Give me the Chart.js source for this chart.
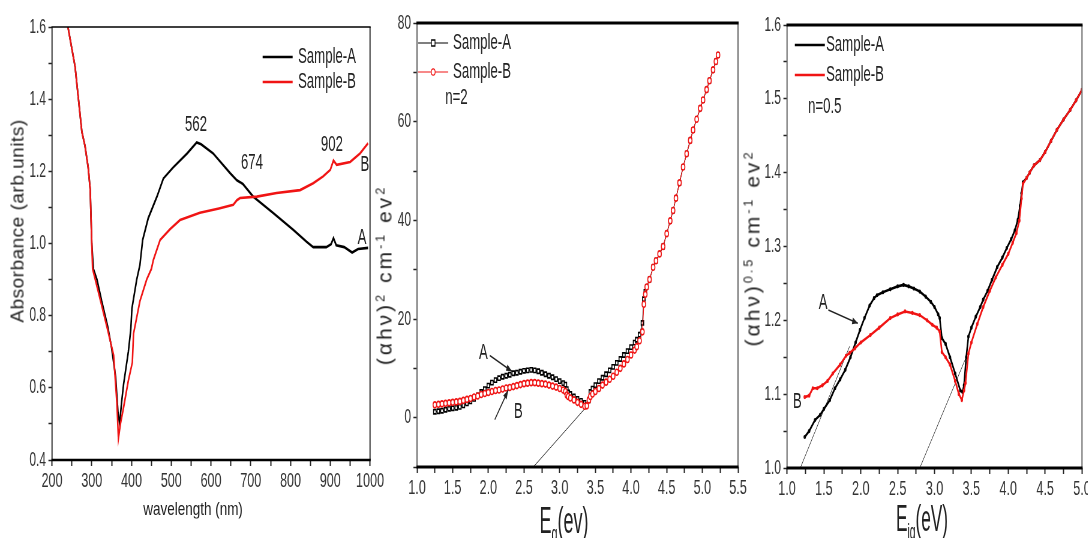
<!DOCTYPE html>
<html>
<head>
<meta charset="utf-8">
<script src="https://cdn.jsdelivr.net/npm/chart.js@4.4.0/dist/chart.umd.min.js"></script>
<style>
html, body { margin: 0; padding: 0; background: #fff; width: 1088px; height: 538px; overflow: hidden; }
#wrap { position: absolute; left: 0; top: 0; width: 1813px; height: 538px; transform: scaleX(0.6); transform-origin: 0 0; }
#wrap canvas { position: absolute; left: 0; top: 0; }
.t { position: absolute; white-space: nowrap; line-height: 1; color: #222; font-family: 'Liberation Sans', Arial, sans-serif; transform: translate(-50%, -50%); }
.rot { transform: translate(-50%, -50%) rotate(-90deg); }
.t sup { font-size: 0.6em; position: relative; top: -0.55em; vertical-align: baseline; }
.t sub { font-size: 0.6em; position: relative; top: 0.35em; vertical-align: baseline; }
</style>
</head>
<body>
<div id="wrap">
  <canvas id="abs" width="1813" height="538"></canvas>
  <canvas id="tauc2" width="1813" height="538"></canvas>
  <canvas id="tauc05" width="1813" height="538"></canvas>
</div>
<div class="t rot" style="left:17px; top:221px; font-size:19px; letter-spacing:0.5px;">Absorbance (arb.units)</div>
<div class="t" style="left:193px; top:508px; font-size:19px; transform:translate(-50%,-50%) scaleX(0.71);">wavelength (nm)</div>
<div class="t rot" style="left:384px; top:275px; font-size:21px; letter-spacing:3px;">(αhν)<sup>2</sup> cm<sup>-1</sup> ev<sup>2</sup></div>
<div class="t" style="left:564px; top:521px; font-size:36px; transform:translate(-50%,-50%) scaleX(0.5);">E<sub>g</sub>(ev)</div>
<div class="t rot" style="left:752px; top:248px; font-size:21px; letter-spacing:3px;">(αhν)<sup>0.5</sup> cm<sup>-1</sup> ev<sup>2</sup></div>
<div class="t" style="left:922px; top:519px; font-size:36px; transform:translate(-50%,-50%) scaleX(0.48);">E<sub>ig</sub>(eV)</div>

<script>
// ---- panel 1: absorbance vs wavelength
const wlA = [240,258,275,283,291,296,300,304,313,325,340,350,360,366,370,375,380,392,398,401,413,421,428,442,464,480,504,540,564,575,605,648,665,673,680,706,756,807,840,857,875,890,902,908,915,935,955,970,995];
const absA = [1.60,1.49,1.31,1.27,1.21,1.15,1.00,0.93,0.90,0.84,0.77,0.71,0.63,0.53,0.50,0.56,0.61,0.70,0.76,0.82,0.90,0.94,1.01,1.07,1.13,1.18,1.21,1.25,1.28,1.275,1.25,1.195,1.175,1.17,1.165,1.13,1.085,1.038,1.005,0.99,0.99,0.99,0.998,1.015,0.995,0.99,0.975,0.985,0.988];
const wlB = [240,258,275,283,291,296,300,302,320,340,355,363,367,372,379,392,402,405,421,438,450,455,472,497,522,572,620,656,665,673,715,765,824,857,882,900,908,916,950,975,995];
const absB = [1.60,1.49,1.31,1.27,1.21,1.15,1.00,0.93,0.85,0.76,0.69,0.56,0.46,0.50,0.54,0.62,0.67,0.75,0.84,0.90,0.93,0.955,1.01,1.04,1.065,1.085,1.097,1.107,1.12,1.126,1.13,1.14,1.148,1.167,1.186,1.204,1.23,1.218,1.226,1.25,1.278];

// ---- panel 2: (ahv)^2 vs Eg, n=2
const eg = [1.25,1.3,1.35,1.4,1.45,1.5,1.55,1.6,1.65,1.7,1.75,1.8,1.85,1.9,1.95,2.0,2.05,2.1,2.15,2.2,2.25,2.3,2.35,2.4,2.45,2.5,2.55,2.6,2.65,2.7,2.75,2.8,2.85,2.9,2.95,3.0,3.05,3.08,3.1,3.12,3.15,3.2,3.25,3.3,3.35,3.38,3.41,3.43,3.46,3.5,3.55,3.6,3.65,3.7,3.75,3.8,3.85,3.9,3.95,4.0,4.05,4.08,4.12,4.16,4.18,4.2,4.22,4.26,4.31,4.35,4.4,4.45,4.5,4.55,4.59,4.63,4.68,4.73,4.78,4.83,4.87,4.92,4.97,5.01,5.06,5.1,5.15,5.19,5.22];
const ahA = [1.2,1.3,1.4,1.6,1.8,1.9,2.0,2.2,2.5,2.9,3.3,3.8,4.5,5.2,5.8,6.5,7.1,7.6,8.0,8.3,8.5,8.7,9.0,9.1,9.3,9.5,9.6,9.7,9.6,9.4,9.1,8.8,8.5,8.2,7.8,7.4,7.0,6.7,5.8,5.1,4.8,4.3,3.8,3.4,3.0,2.6,3.5,5.2,5.9,6.6,7.4,8.1,8.8,9.6,10.3,11.1,11.9,12.7,13.5,14.3,15.2,15.8,16.8,19.2,24.0,25.5,26.5,28.0,30.5,31.8,33.2,34.7,37.3,39.9,42.0,44.5,47.6,50.8,53.5,56.2,58.3,60.5,62.7,64.4,66.5,68.3,70.5,72.2,73.5];
const ahB = [2.6,2.7,2.8,2.9,3.0,3.1,3.2,3.3,3.5,3.7,3.9,4.2,4.4,4.7,4.9,5.1,5.3,5.5,5.6,5.8,6.0,6.1,6.3,6.5,6.7,6.9,7.0,7.1,7.1,7.0,6.9,6.8,6.6,6.4,6.2,5.9,5.6,5.3,4.6,4.3,4.0,3.6,3.1,2.7,2.3,2.4,3.6,4.3,4.8,5.3,5.9,6.6,7.2,7.8,8.4,9.2,10.0,10.9,11.8,12.7,13.7,14.4,15.6,17.4,23.0,25.0,26.5,28.0,30.5,31.8,33.2,34.7,37.3,39.9,42.0,44.5,47.6,50.8,53.5,56.2,58.3,60.5,62.7,64.4,66.5,68.3,70.5,72.2,73.5];
const fitX2 = [2.63, 3.40];
const fitY2 = [-10, 2.6];

// ---- panel 3: (ahv)^0.5 vs Eig, n=0.5
const eiA = [1.24,1.3,1.38,1.45,1.5,1.58,1.65,1.72,1.79,1.86,1.93,1.99,2.05,2.12,2.18,2.22,2.3,2.4,2.5,2.58,2.65,2.72,2.8,2.88,2.95,3.0,3.05,3.07,3.1,3.15,3.21,3.28,3.35,3.38,3.4,3.43,3.46,3.5,3.56,3.62,3.66,3.72,3.78,3.85,3.92,3.98,4.04,4.09,4.13,4.16,4.18,4.2,4.25,4.29,4.35,4.43,4.5,4.58,4.66,4.75,4.84,4.92,5.0];
const rtA = [1.042,1.05,1.065,1.072,1.08,1.092,1.108,1.12,1.133,1.15,1.17,1.187,1.203,1.22,1.23,1.234,1.238,1.242,1.246,1.248,1.246,1.243,1.239,1.232,1.225,1.218,1.208,1.203,1.176,1.168,1.15,1.128,1.105,1.103,1.112,1.15,1.178,1.19,1.205,1.218,1.228,1.24,1.255,1.272,1.285,1.298,1.31,1.322,1.336,1.355,1.372,1.387,1.393,1.40,1.41,1.417,1.428,1.443,1.458,1.472,1.485,1.498,1.512];
const eiB = [1.24,1.3,1.35,1.41,1.48,1.55,1.62,1.72,1.8,1.85,1.92,2.0,2.13,2.25,2.4,2.5,2.6,2.7,2.8,2.9,2.97,3.03,3.07,3.1,3.15,3.21,3.28,3.33,3.37,3.4,3.42,3.46,3.5,3.58,3.66,3.75,3.83,3.92,4.0,4.06,4.11,4.15,4.18,4.2,4.25,4.29,4.35,4.43,4.5,4.58,4.66,4.75,4.84,4.92,5.0];
const rtB = [1.096,1.098,1.108,1.108,1.112,1.118,1.128,1.14,1.152,1.156,1.162,1.17,1.18,1.19,1.203,1.208,1.212,1.21,1.207,1.2,1.194,1.19,1.185,1.157,1.15,1.14,1.118,1.1,1.092,1.105,1.115,1.155,1.17,1.195,1.218,1.24,1.258,1.275,1.29,1.305,1.318,1.335,1.365,1.385,1.393,1.40,1.41,1.417,1.428,1.443,1.458,1.472,1.485,1.498,1.512];
const fitX3a = [1.18, 1.85];
const fitY3a = [1.0, 1.165];
const fitX3b = [2.8, 3.45];
const fitY3b = [1.0, 1.155];

const names = ['Sample-A', 'Sample-B'];

const FONT = "'Liberation Sans', Arial, sans-serif";
const W = 1813, H = 538;
const RED = '#f01414';
Chart.defaults.font.family = FONT;

function pts(xs, ys) {
    return xs.map((x, i) => ({x: x, y: ys[i]}));
}

// box around plot area
const framePlugin = {
    id: 'frame',
    afterDraw(chart, args, o) {
        const ctx = chart.ctx, a = chart.chartArea;
        ctx.save();
        ctx.strokeStyle = o.sideColor;
        ctx.lineWidth = o.side;
        ctx.beginPath();
        ctx.moveTo(a.left, a.top); ctx.lineTo(a.left, a.bottom);
        ctx.moveTo(a.right, a.top); ctx.lineTo(a.right, a.bottom);
        ctx.stroke();
        ctx.strokeStyle = '#000';
        ctx.lineWidth = o.top;
        ctx.beginPath(); ctx.moveTo(a.left - 1, a.top); ctx.lineTo(a.right + 1, a.top); ctx.stroke();
        ctx.lineWidth = o.bottom;
        ctx.beginPath(); ctx.moveTo(a.left - 1, a.bottom); ctx.lineTo(a.right + 1, a.bottom); ctx.stroke();
        ctx.restore();
    }
};

// text labels and arrows placed in data coordinates
const notesPlugin = {
    id: 'notes',
    afterDatasetsDraw(chart, args, o) {
        const ctx = chart.ctx, sx = chart.scales.x, sy = chart.scales.y;
        ctx.save();
        ctx.fillStyle = '#222';
        ctx.strokeStyle = '#222';
        ctx.font = o.size + 'px ' + FONT;
        ctx.textAlign = 'center';
        ctx.textBaseline = 'middle';
        (o.texts || []).forEach(t => ctx.fillText(t.text, sx.getPixelForValue(t.x), sy.getPixelForValue(t.y)));
        (o.arrows || []).forEach(ar => {
            const x1 = sx.getPixelForValue(ar[0]), y1 = sy.getPixelForValue(ar[1]);
            const x2 = sx.getPixelForValue(ar[2]), y2 = sy.getPixelForValue(ar[3]);
            ctx.lineWidth = 1.5;
            ctx.beginPath(); ctx.moveTo(x1, y1); ctx.lineTo(x2, y2); ctx.stroke();
            const ang = Math.atan2(y2 - y1, x2 - x1), L = 10;
            ctx.beginPath();
            ctx.moveTo(x2, y2);
            ctx.lineTo(x2 - L * Math.cos(ang - 0.35), y2 - L * Math.sin(ang - 0.35));
            ctx.lineTo(x2 - L * Math.cos(ang + 0.35), y2 - L * Math.sin(ang + 0.35));
            ctx.closePath();
            ctx.fill();
        });
        ctx.restore();
    }
};

// small legend inside the plot
const keyPlugin = {
    id: 'key',
    afterDraw(chart, args, o) {
        const ctx = chart.ctx, a = chart.chartArea;
        const sets = chart.data.datasets.filter(d => d.inKey);
        ctx.save();
        ctx.font = o.size + 'px ' + FONT;
        ctx.textBaseline = 'middle';
        ctx.textAlign = 'left';
        sets.forEach((d, i) => {
            const y = a.top + o.y0 + i * o.gap;
            ctx.strokeStyle = d.borderColor;
            ctx.lineWidth = o.lw;
            ctx.beginPath(); ctx.moveTo(a.left + o.x0, y); ctx.lineTo(a.left + o.x1, y); ctx.stroke();
            if (o.marker) {
                const mx = a.left + (o.x0 + o.x1) / 2;
                ctx.fillStyle = '#fff';
                ctx.lineWidth = 1.3;
                ctx.beginPath();
                if (d.pointStyle === 'rect') ctx.rect(mx - 3, y - 3, 6, 6);
                else ctx.arc(mx, y, 3.2, 0, Math.PI * 2);
                ctx.fill(); ctx.stroke();
            }
            ctx.fillStyle = '#222';
            ctx.fillText(d.label, a.left + o.tx, y);
        });
        if (o.note) {
            ctx.fillStyle = '#222';
            ctx.fillText(o.note, a.left + o.nx, a.top + o.ny);
        }
        ctx.restore();
    }
};

function makeChart(id, box, sc, datasets, extra) {
    return new Chart(document.getElementById(id), {
        type: 'line',
        data: {datasets: datasets},
        options: {
            responsive: false,
            animation: false,
            events: [],
            layout: {padding: {left: box.left - box.yw, right: W - box.right, top: box.top, bottom: 0}},
            plugins: {
                legend: {display: false},
                tooltip: {enabled: false},
                frame: extra.frame,
                notes: extra.notes,
                key: extra.key
            },
            scales: {
                x: {
                    type: 'linear', min: sc.xmin, max: sc.xmax,
                    afterFit: s => { s.height = H - box.bottom; s.paddingLeft = 0; s.paddingRight = 0; },
                    ticks: {stepSize: sc.xstep, autoSkip: false, maxRotation: 0, padding: 3, color: '#333', font: {size: 21}, callback: sc.xlab},
                    grid: {drawOnChartArea: false, tickLength: 6, tickColor: '#222', tickWidth: 2},
                    border: {display: false}
                },
                y: {
                    type: 'linear', min: sc.ymin, max: sc.ymax,
                    afterFit: s => { s.width = box.yw; s.paddingTop = 0; s.paddingBottom = 0; },
                    ticks: {stepSize: sc.ystep, autoSkip: false, padding: 4, color: '#333', font: {size: 20}, callback: sc.ylab},
                    grid: {drawOnChartArea: false, tickLength: 6, tickColor: '#222', tickWidth: 1.5},
                    border: {display: false}
                }
            }
        },
        plugins: [framePlugin, notesPlugin, keyPlugin]
    });
}

const onStep = (v, k) => Math.abs(v * k - Math.round(v * k)) < 1e-6;

makeChart('abs',
    {left: 86.7, right: 616.7, top: 27, bottom: 460, yw: 80},
    {xmin: 200, xmax: 1000, xstep: 50, xlab: v => v % 100 === 0 ? String(v) : '',
     ymin: 0.4, ymax: 1.6, ystep: 0.1, ylab: v => onStep(v, 5) ? v.toFixed(1) : ''},
    [
        {label: names[0], inKey: true, data: pts(wlA, absA), borderColor: '#000', borderWidth: 2.6, pointRadius: 0, order: 1},
        {label: names[1], inKey: true, data: pts(wlB, absB), borderColor: RED, borderWidth: 2.6, pointRadius: 0, order: 0}
    ],
    {
        frame: {top: 1.5, bottom: 2.5, side: 2, sideColor: '#333'},
        notes: {size: 22, texts: [
            {text: '562', x: 562, y: 1.329},
            {text: '674', x: 703, y: 1.223},
            {text: '902', x: 904, y: 1.273},
            {text: 'B', x: 987, y: 1.218},
            {text: 'A', x: 980, y: 1.016}
        ]},
        key: {size: 22, y0: 30, gap: 25, x0: 351, x1: 401, tx: 410, lw: 2.6}
    });

makeChart('tauc2',
    {left: 695, right: 1230, top: 23, bottom: 467, yw: 80},
    {xmin: 1, xmax: 5.5, xstep: 0.25, xlab: v => onStep(v, 2) ? v.toFixed(1) : '',
     ymin: -10, ymax: 80, ystep: 10, ylab: v => v % 20 === 0 ? String(v) : ''},
    [
        {label: names[0], inKey: true, data: pts(eg, ahA), borderColor: '#000', borderWidth: 1.2,
         pointStyle: 'rect', pointRadius: 3, pointBorderWidth: 1.6, pointBackgroundColor: '#fff', pointBorderColor: '#000', order: 1},
        {label: names[1], inKey: true, data: pts(eg, ahB), borderColor: RED, borderWidth: 1.2,
         pointStyle: 'circle', pointRadius: 3, pointBorderWidth: 1.6, pointBackgroundColor: '#fff', pointBorderColor: RED, order: 0},
        {label: 'fit', data: pts(fitX2, fitY2), borderColor: '#333', borderWidth: 1, pointRadius: 0, order: 2}
    ],
    {
        frame: {top: 3, bottom: 3, side: 2, sideColor: '#666'},
        notes: {size: 22,
            texts: [{text: 'A', x: 1.93, y: 13.2}, {text: 'B', x: 2.42, y: 1.2}],
            arrows: [[2.02, 12.6, 2.33, 9.4], [2.09, -0.4, 2.28, 5.6]]},
        key: {size: 22, y0: 20, gap: 29, x0: 2, x1: 52, tx: 60, lw: 1.2, marker: true, note: 'n=2', nx: 47, ny: 75}
    });

makeChart('tauc05',
    {left: 1311.7, right: 1803.3, top: 25, bottom: 468, yw: 80},
    {xmin: 1, xmax: 5, xstep: 0.25, xlab: v => onStep(v, 2) ? v.toFixed(1) : '',
     ymin: 1.0, ymax: 1.6, ystep: 0.05, ylab: v => onStep(v, 10) ? v.toFixed(1) : ''},
    [
        {label: names[0], inKey: true, data: pts(eiA, rtA), borderColor: '#000', borderWidth: 2.6, pointRadius: 0.8,
         pointBackgroundColor: '#000', pointBorderColor: '#000', order: 1},
        {label: names[1], inKey: true, data: pts(eiB, rtB), borderColor: RED, borderWidth: 2.6, pointRadius: 0.8,
         pointBackgroundColor: RED, pointBorderColor: RED, order: 0},
        {label: 'fit1', data: pts(fitX3a, fitY3a), borderColor: '#333', borderWidth: 1, pointRadius: 0, order: 2},
        {label: 'fit2', data: pts(fitX3b, fitY3b), borderColor: '#333', borderWidth: 1, pointRadius: 0, order: 2}
    ],
    {
        frame: {top: 3, bottom: 3, side: 2, sideColor: '#666'},
        notes: {size: 22,
            texts: [{text: 'A', x: 1.49, y: 1.224}, {text: 'B', x: 1.14, y: 1.089}],
            arrows: [[1.56, 1.214, 1.96, 1.196]]},
        key: {size: 22, y0: 20, gap: 30, x0: 13, x1: 63, tx: 65, lw: 2.6, note: 'n=0.5', nx: 35, ny: 82}
    });
</script>
</body>
</html>
